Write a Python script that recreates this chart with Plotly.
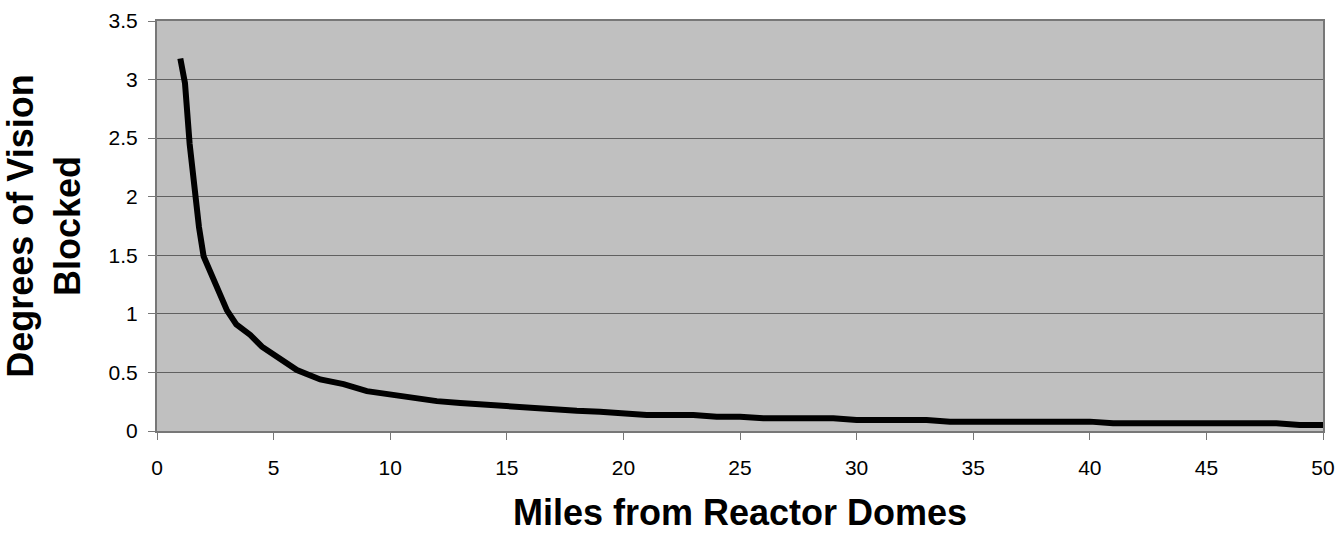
import plotly.graph_objects as go

# Data
miles = [1, 1.2, 1.4, 1.6, 1.8, 2, 2.5, 3, 3.4, 4, 4.5, 5, 5.5, 6, 7, 8, 9, 10,
         11, 12, 13, 14, 15, 16, 17, 18, 19, 20, 21, 22, 23, 24, 25, 26, 27, 28,
         29, 30, 31, 32, 33, 34, 35, 36, 37, 38, 39, 40, 41, 42, 43, 44, 45, 46,
         47, 48, 49, 50]
degrees = [3.18, 2.97, 2.45, 2.05, 1.74, 1.49, 1.27, 1.03, 0.91, 0.82, 0.72, 0.65,
           0.575, 0.52, 0.44, 0.40, 0.34, 0.31, 0.28, 0.255, 0.24, 0.225, 0.21,
           0.195, 0.182, 0.172, 0.165, 0.15, 0.137, 0.137, 0.137, 0.122, 0.122,
           0.108, 0.108, 0.108, 0.108, 0.094, 0.094, 0.094, 0.094, 0.08, 0.08,
           0.08, 0.08, 0.08, 0.08, 0.08, 0.066, 0.066, 0.066, 0.066, 0.066, 0.066,
           0.066, 0.066, 0.052, 0.052]

x_ticks = [0, 5, 10, 15, 20, 25, 30, 35, 40, 45, 50]
y_ticks = [0, 0.5, 1, 1.5, 2, 2.5, 3, 3.5]
y_tick_labels = ["0", "0.5", "1", "1.5", "2", "2.5", "3", "3.5"]

x_title = "Miles from Reactor Domes"
y_title = "Degrees of Vision<br>Blocked"

fig = go.Figure()
fig.add_trace(go.Scatter(
    x=miles, y=degrees, mode="lines",
    line=dict(color="black", width=6, shape="linear"),
    hoverinfo="x+y", showlegend=False,
))

font_family = "Liberation Sans, Arial, sans-serif"

fig.update_layout(
    width=1338, height=535,
    margin=dict(l=157, r=15, t=21, b=104),
    paper_bgcolor="white",
    plot_bgcolor="#C0C0C0",
    font=dict(family=font_family, color="black", size=21),
    xaxis=dict(
        range=[0, 50], tickvals=x_ticks, ticktext=[str(v) for v in x_ticks],
        showgrid=False, zeroline=False, automargin=False,
        showline=True, linecolor="#777777", linewidth=2, mirror=True,
        ticks="outside", ticklen=7, tickwidth=1, tickcolor="#777777",
        ticklabelstandoff=10,
        tickfont=dict(size=21, family=font_family, color="black"),
        title=dict(text=x_title, standoff=22,
                   font=dict(size=36, family=font_family, color="black", weight="bold")),
    ),
    yaxis=dict(
        range=[0, 3.5], tickvals=y_ticks, ticktext=y_tick_labels,
        showgrid=True, gridcolor="#606060", gridwidth=1,
        zeroline=False, automargin=False,
        showline=True, linecolor="#777777", linewidth=2, mirror=True,
        ticks="outside", ticklen=7, tickwidth=1, tickcolor="#777777",
        ticklabelstandoff=6,
        tickfont=dict(size=21, family=font_family, color="black"),
        title=dict(text=y_title, standoff=24,
                   font=dict(size=36, family=font_family, color="black", weight="bold")),
    ),
)

fig.write_html(
    "out.html",
    config={"displayModeBar": False},
    post_script="document.body.style.margin='0';document.body.style.padding='0';",
)
